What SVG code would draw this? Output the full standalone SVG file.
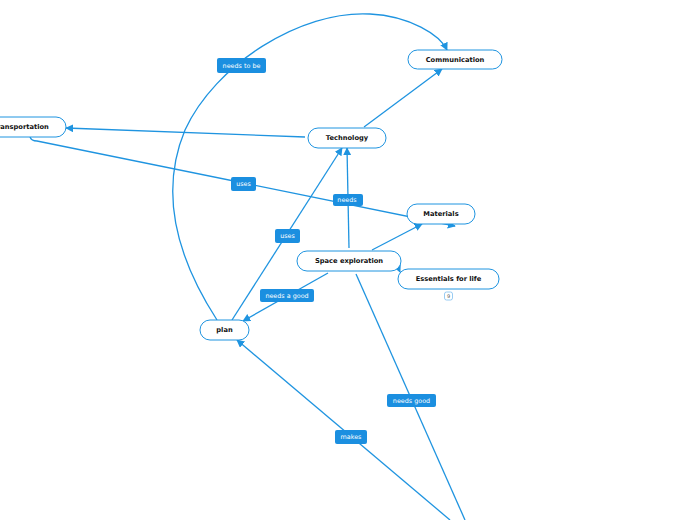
<svg xmlns="http://www.w3.org/2000/svg" width="696" height="520" viewBox="0 0 696 520">
<defs>
<marker id="arr" viewBox="0 0 10 10" refX="9" refY="5" markerWidth="8" markerHeight="8" markerUnits="userSpaceOnUse" orient="auto">
<path d="M0,0 L10,5 L0,10 z" fill="#1f94e0"/>
</marker>
</defs>
<style>
.node rect{fill:#fff;stroke:#1f94e0;stroke-width:1}
.node text{font-family:"DejaVu Sans",Verdana,sans-serif;font-weight:bold;font-size:6.7px;fill:#111;text-anchor:middle;dominant-baseline:central}
.conn path{fill:none;stroke:#1f94e0;stroke-width:1.3;marker-end:url(#arr)}
.conn path.plain{marker-end:none}
.lbl rect{fill:#1b8fe0}
.lbl text{font-family:"DejaVu Sans",Verdana,sans-serif;font-size:6.4px;fill:#fff;text-anchor:middle;dominant-baseline:central}
</style>
<rect width="696" height="520" fill="#fff"/>
<g id="connectors" class="conn">
<path d="M217,320 C175,255 160,190 185,130 C215,65 300,10 370,14 C410,16 440,35 447,50"/>
<path d="M305,137 L66,128"/>
<path d="M364,127 L442,69"/>
<path d="M30,137 C31,140 33,141 37,141 L455,226"/>
<path d="M349,248 L347,148"/>
<path d="M372,250 L422,224"/>
<path d="M397,265 L400,272"/>
<path d="M232,320 L342,148"/>
<path d="M328,273 L243,321"/>
<path d="M450,520 L237,340"/>
<path class="plain" d="M356,274 L465,520"/>
</g>
<g id="labels">
<g class="lbl" id="lbl-needs-to-be"><rect x="217" y="58" width="49" height="15" rx="2"/><text x="241.5" y="65.5">needs to be</text></g>
<g class="lbl" id="lbl-uses1"><rect x="231" y="177" width="25" height="14" rx="2"/><text x="243.5" y="184">uses</text></g>
<g class="lbl" id="lbl-needs"><rect x="333" y="194" width="30" height="12" rx="2"/><text x="347" y="200">needs</text></g>
<g class="lbl" id="lbl-uses2"><rect x="275" y="229" width="25" height="14" rx="2"/><text x="287.5" y="236">uses</text></g>
<g class="lbl" id="lbl-needs-a-good"><rect x="260" y="289" width="54" height="13" rx="2"/><text x="287" y="295.5">needs a good</text></g>
<g class="lbl" id="lbl-needs-good"><rect x="387" y="394" width="49" height="13" rx="2"/><text x="411.5" y="400.5">needs good</text></g>
<g class="lbl" id="lbl-makes"><rect x="335" y="430" width="32" height="14" rx="2"/><text x="351" y="437">makes</text></g>
</g>
<g id="transportation" class="node"><rect x="-24" y="117" width="90" height="20" rx="10"/><text x="21" y="127">Transportation</text></g>
<g id="technology" class="node"><rect x="308" y="128" width="78" height="20" rx="10"/><text x="347" y="138">Technology</text></g>
<g id="communication" class="node"><rect x="408" y="50" width="94" height="19" rx="9.5"/><text x="455" y="59.5">Communication</text></g>
<g id="space-exploration" class="node"><rect x="297" y="251" width="104" height="20" rx="10"/><text x="349" y="261">Space exploration</text></g>
<g id="materials" class="node"><rect x="407" y="204" width="68" height="20" rx="10"/><text x="441" y="214">Materials</text></g>
<g id="essentials" class="node"><rect x="398" y="269" width="101" height="20" rx="10"/><text x="448.5" y="279">Essentials for life</text>
<rect x="444.5" y="292" width="8" height="8" rx="2" style="stroke:#7fbff0;stroke-width:0.8"/><text x="448.5" y="296" style="font-size:5px;font-weight:normal;fill:#555">9</text></g>
<g id="plan" class="node"><rect x="200" y="320" width="49" height="20" rx="10"/><text x="224.5" y="330">plan</text></g>
</svg>
